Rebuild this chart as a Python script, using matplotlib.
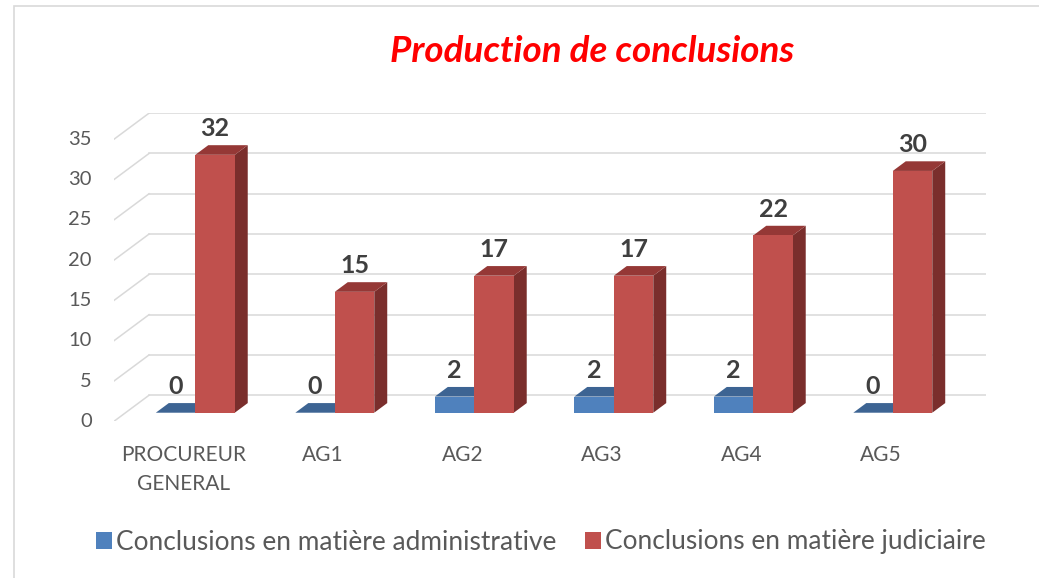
import matplotlib.pyplot as plt
from matplotlib.patches import Polygon, Rectangle, Patch

categories = ['PROCUREUR\nGENERAL', 'AG1', 'AG2', 'AG3', 'AG4', 'AG5']
admin = [0, 0, 2, 2, 2, 0]
judic = [32, 15, 17, 17, 22, 30]
series_names = ['Conclusions en matière administrative',
                'Conclusions en matière judiciaire']
yticks = [0, 5, 10, 15, 20, 25, 30, 35]

# couleurs (face avant, dessus, côté)
couleurs = [('#4F81BD', '#3D6493', '#2F4F75'),
            ('#C0504D', '#953836', '#7A2E2C')]
gris = '#D9D9D9'
texte = '#595959'

# effet 3D oblique : décalage de profondeur en unités de données
DX, DY = 0.251, 3.23
Z0, Z1 = 0.33, 0.70     # profondeur des barres (fraction)
W = 0.283               # largeur d'une barre
YMAX = 35

plt.rcParams['font.family'] = ['Lato', 'DejaVu Sans']
fig = plt.figure(figsize=(10.39, 5.78), dpi=100)
# axes : front gauche à x=114px, y=0 à 421px
ax = fig.add_axes([114 / 1039, 156.7 / 578, 872 / 1039, 308.1 / 578])
ax.set_xlim(-0.5, len(categories) - 0.5 + DX)
ax.set_ylim(0, YMAX + DY)
ax.axis('off')

x_left = -0.5
x_right = len(categories) - 0.5
for v in yticks:
    ax.plot([x_left + DX, x_right + DX], [v + DY, v + DY], color=gris, lw=1.1, zorder=1)
    ax.plot([x_left, x_left + DX], [v, v + DY], color=gris, lw=1.1, zorder=1)
    ax.text(x_left - 0.158, v, str(v), ha='right', va='center',
            fontsize=14.5, color=texte, clip_on=False)

ox0, oy0 = Z0 * DX, Z0 * DY
ox1, oy1 = Z1 * DX, Z1 * DY
for i, cat in enumerate(categories):
    for s, vals in enumerate([admin, judic]):
        v = vals[i]
        fc, tc, sc = couleurs[s]
        xa = i - W + s * W
        xb = xa + W
        ax.add_patch(Polygon([(xb + ox0, oy0), (xb + ox1, oy1), (xb + ox1, v + oy1),
                              (xb + ox0, v + oy0)], closed=True, fc=sc, ec='none', zorder=2 + s))
        ax.add_patch(Polygon([(xa + ox0, v + oy0), (xb + ox0, v + oy0), (xb + ox1, v + oy1),
                              (xa + ox1, v + oy1)], closed=True, fc=tc, ec='none', zorder=2 + s))
        ax.add_patch(Rectangle((xa + ox0, oy0), W, v, fc=fc, ec='none', zorder=2 + s))
        ax.text((xa + xb) / 2 + ox0, v + 3.4, str(v), ha='center', va='baseline',
                fontsize=18, fontweight='bold', color='#3F3F3F', zorder=5, clip_on=False)
    ax.text(i, -3.0, cat, ha='center', va='top', fontsize=15, color=texte,
            linespacing=1.55, clip_on=False)

fig.text(591.7 / 1039, 1 - 62.3 / 578, 'Production de conclusions', ha='center',
         va='baseline', fontsize=26.5, fontweight='bold', fontstyle='italic', color='#FF0000')

handles = [Patch(fc=couleurs[0][0]), Patch(fc=couleurs[1][0])]
fig.legend(handles, series_names, loc='center', bbox_to_anchor=(541 / 1039, 1 - 542 / 578),
           ncol=2, frameon=False, fontsize=18.9, labelcolor=texte, handlelength=0.6,
           handleheight=0.6, handletextpad=0.15, columnspacing=1.1)

# cadre du graphique
fig.patches.append(Rectangle((13.5 / 1039, -0.1), 1.2, 1.1 - 6.5 / 578, transform=fig.transFigure,
                             fill=False, ec=gris, lw=1.2))

fig.savefig('out.png', dpi=100)
